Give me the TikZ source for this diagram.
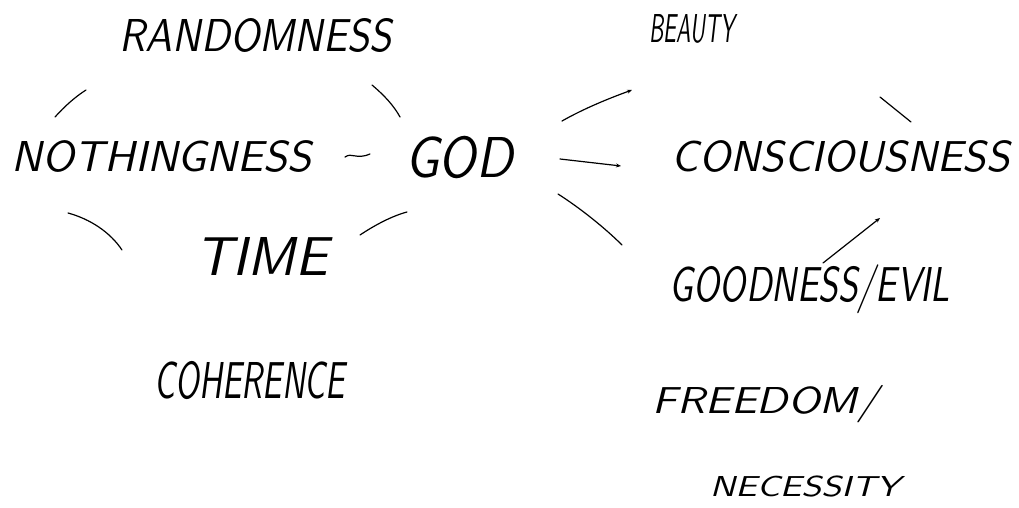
\documentclass[tikz,border=0pt]{standalone}
\usepackage{graphicx}
\usetikzlibrary{arrows.meta}
\newcommand{\hw}[3]{\resizebox{#1pt}{#2pt}{\sffamily\itshape\raisebox{0pt}[\fontcharht\font`H][0pt]{#3}}}
\tikzset{
  lbl/.style={inner sep=0pt, anchor=center},
  conn/.style={line width=1.2pt, black, line cap=round},
  arr/.style={conn, -{Stealth[length=5pt,width=4pt]}}
}
\begin{document}
\begin{tikzpicture}[x=1pt,y=-1pt]
\useasboundingbox (0,0) rectangle (1019,508);
% labels
\node[lbl] (rand) at (256,35) {\hw{272}{32}{RANDOMNESS}};
\node[lbl] (beauty) at (692,29) {\hw{85}{28}{BEAUTY}};
\node[lbl] (noth) at (162,156) {\hw{300}{30}{NOTHINGNESS}};
\node[lbl] (god) at (459,157) {\hw{108}{40}{GOD}};
\node[lbl] (cons) at (841,156) {\hw{338}{30}{CONSCIOUSNESS}};
\node[lbl] (time) at (262,256) {\hw{133}{38}{TIME}};
\node[lbl] (good) at (810,284) {\hw{280}{34}{GOODNESS/EVIL}};
\node[lbl] (coh) at (250,380) {\hw{190}{36}{COHERENCE}};
\node[lbl] (free) at (766,400) {\hw{226}{26}{FREEDOM/}};
\node[lbl] (nec) at (805,486) {\hw{190}{20}{NECESSITY}};
% connector end points
\coordinate (a1) at (55,117);  \coordinate (a2) at (86,90);
\coordinate (b1) at (372,85);  \coordinate (b2) at (400,117);
\coordinate (c1) at (345,157); \coordinate (c2) at (370,154);
\coordinate (d1) at (68,213);  \coordinate (d2) at (122,250);
\coordinate (e1) at (360,235); \coordinate (e2) at (407,212);
\coordinate (f1) at (562,121); \coordinate (f2) at (632,90);
\coordinate (g1) at (560,159); \coordinate (g2) at (621,166);
\coordinate (h1) at (558,194); \coordinate (h2) at (622,245);
\coordinate (i1) at (880,97);  \coordinate (i2) at (911,122);
\coordinate (j1) at (823,263); \coordinate (j2) at (880,218);
% connectors
\draw[conn] (a1) .. controls (65,106) and (75,97) .. (a2);
\draw[conn] (b1) .. controls (385,96) and (394,106) .. (b2);
\draw[conn] (c1) .. controls (352,152) and (356,160) .. (c2);
\draw[conn] (d1) .. controls (90,219) and (110,232) .. (d2);
\draw[conn] (e1) .. controls (375,225) and (392,216) .. (e2);
\draw[arr] (f1) .. controls (585,108) and (610,98) .. (f2);
\draw[arr] (g1) -- (g2);
\draw[conn] (h1) .. controls (580,208) and (605,228) .. (h2);
\draw[conn] (i1) -- (i2);
\draw[arr] (j1) -- (j2);
\end{tikzpicture}
\end{document}
